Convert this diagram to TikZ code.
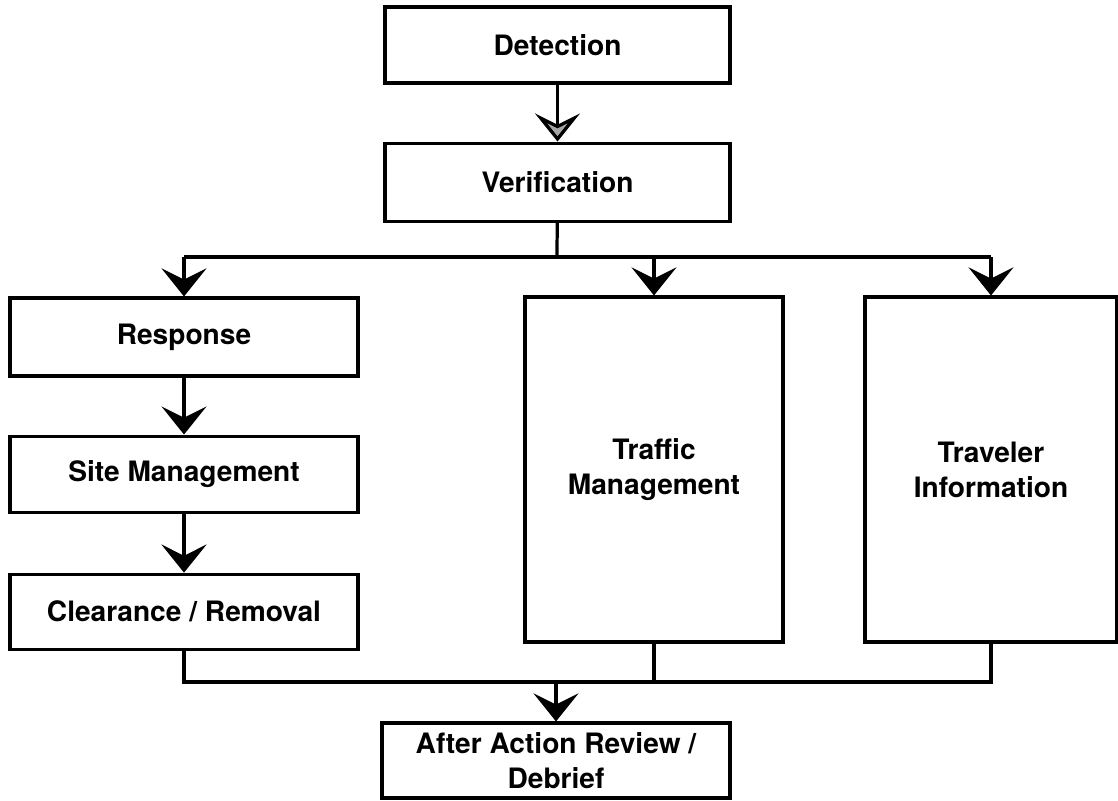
\documentclass[tikz,border=0pt]{standalone}
\usepackage{fontspec}
\setmainfont{TeX Gyre Heros}
\usetikzlibrary{positioning,arrows.meta}

\tikzset{
  box/.style={draw, line width=2.2pt, fill=white, align=center, inner sep=0pt,
    font=\fontsize{20}{25}\selectfont\bfseries},
  bus/.style={line width=2.3pt},
  flow/.style={line width=2.3pt, -{Stealth[length=20pt,width=32pt,inset=8pt]}},
  greyflow/.style={line width=2.3pt, -{Stealth[length=20pt,width=32pt,inset=8pt,fill=gray!70]}},
}

\begin{document}
\begin{tikzpicture}[x=0.25mm,y=-0.25mm]
\fill[white] (0,0) rectangle (1118,800);
\useasboundingbox (0,0) rectangle (1118,800);
\node[box, minimum width=86.25mm, minimum height=19mm] (det) at (557.5,45) {Detection};
\node[box, minimum width=86.25mm, minimum height=19.5mm] (ver) [below=14.25mm of det] {Verification};
\node[box, minimum width=87mm, minimum height=19.5mm] (resp) at (184,337) {Response};
\node[box, minimum width=87mm, minimum height=19mm] (site) [below=14.25mm of resp] {Site Management};
\node[box, minimum width=87mm, minimum height=18.75mm] (clr) [below=14.75mm of site] {Clearance / Removal};
\node[box, minimum width=64.5mm, minimum height=86.25mm] (traf) at (654,469.5) {Traffic\\Management};
\node[box, minimum width=63mm, minimum height=86.25mm] (trav) at (991,469.5) {Traveler\\Information};
\node[box, minimum width=87mm, minimum height=18.75mm] (after) at (556,760.5) {After Action Review /\\Debrief};
\coordinate (split) at (557,257);
\coordinate (join) at (556,682);
% top of the flow
\draw[greyflow] (det) -- (ver);
\draw[bus] (ver) -- (split);
\draw[bus] (resp.north |- split) -- (trav.north |- split);
\foreach \n in {resp,traf,trav}
  \draw[flow] (\n.north |- split) -- (\n.north);
\draw[flow] (resp) -- (site);
\draw[flow] (site) -- (clr);
% bottom of the flow
\draw[bus] (clr.south) -- (clr.south |- join) -- (trav.south |- join) -- (trav.south);
\draw[bus] (traf.south) -- (traf.south |- join);
\draw[flow] (join) -- (after);
\end{tikzpicture}
\end{document}
